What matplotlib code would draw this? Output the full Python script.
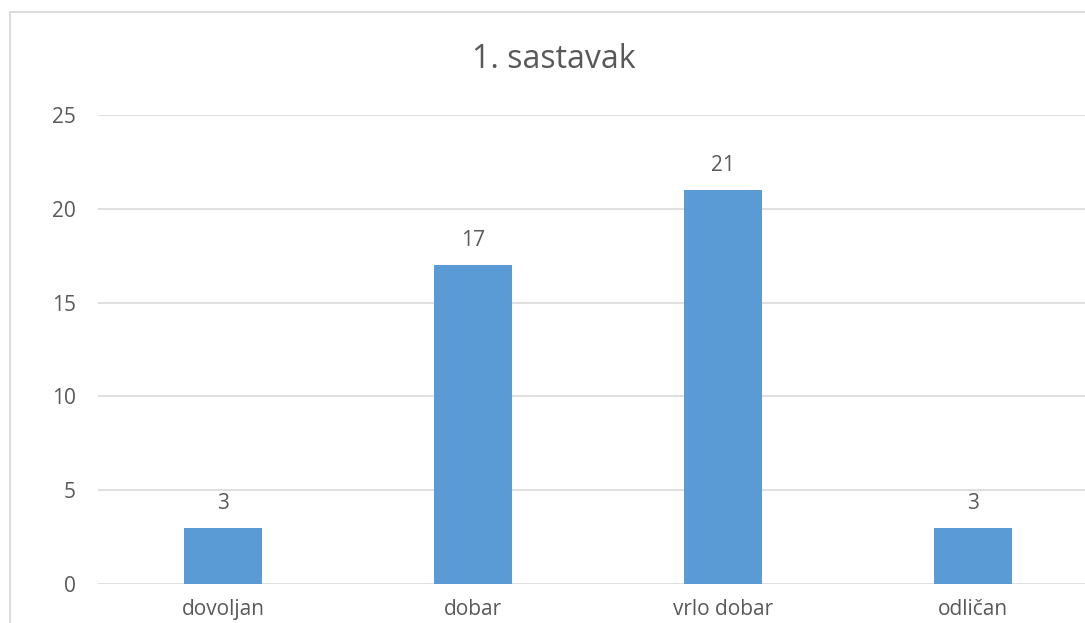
import matplotlib

matplotlib.use("Agg")
import matplotlib.pyplot as plt
from matplotlib.patches import Rectangle

categories = ["dovoljan", "dobar", "vrlo dobar", "odličan"]
values = [3, 17, 21, 3]
yticks = [0, 5, 10, 15, 20, 25]

BAR_COLOR = "#5B9BD5"
TEXT_COLOR = "#595959"
GRID_COLOR = "#D9D9D9"

plt.rcParams["font.family"] = ["Open Sans", "DejaVu Sans"]

W, H = 1085, 623
fig = plt.figure(figsize=(W / 100, H / 100), dpi=100)

# chart border (cropped on the right and bottom in the reference)
fig.patches.append(Rectangle((10 / W, -0.1), 1.2, 1 - 12 / H + 0.1,
                             transform=fig.transFigure, fill=False,
                             edgecolor=GRID_COLOR, linewidth=1.3))

ax = fig.add_axes([98 / W, 1 - 584 / H, 1000 / W, (584 - 115) / H])
x = range(len(categories))
ax.bar(x, values, width=0.31, color=BAR_COLOR, zorder=3)
ax.set_xlim(-0.5, len(categories) - 0.5)
ax.set_ylim(0, 25)
ax.set_yticks(yticks)
ax.set_xticks(list(x))
ax.set_xticklabels(categories)

for i, v in enumerate(values):
    ax.annotate(str(v), (i, v), xytext=(0, 10), textcoords="offset points",
                ha="center", va="bottom", fontsize=15, color=TEXT_COLOR)

ax.grid(axis="y", color=GRID_COLOR, linewidth=1.2, zorder=0)
for s in ax.spines.values():
    s.set_visible(False)
ax.tick_params(axis="both", length=0, labelsize=15, labelcolor=TEXT_COLOR)
ax.tick_params(axis="y", pad=16)
ax.tick_params(axis="x", pad=11)

fig.text(554 / W, 1 - 59 / H, "1. sastavak", ha="center", va="center",
         fontsize=23, color=TEXT_COLOR)

fig.savefig("out.png", dpi=100)
